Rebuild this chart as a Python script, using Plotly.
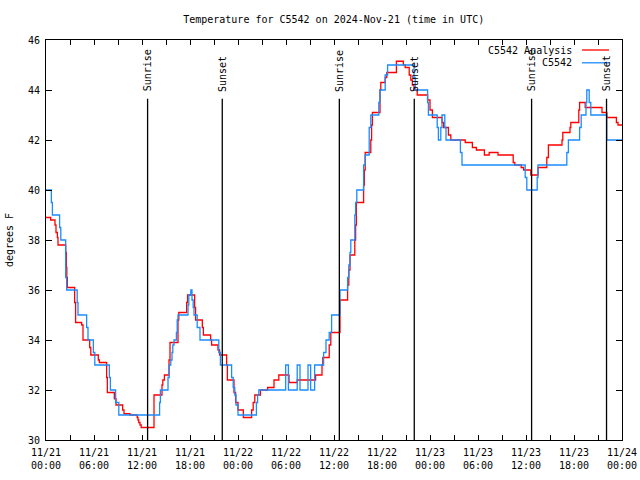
import pandas as pd
import plotly.graph_objects as go

START = pd.Timestamp("2024-11-21 00:00")
END = pd.Timestamp("2024-11-24 00:00")

# Analysis series (hours since 11/21 00:00 UTC, degrees F)
analysis_hours = [0, 0.58, 1.125, 1.25, 1.42, 1.5, 2.46, 2.55, 2.6, 2.67, 3.58, 3.7, 4.46, 4.625,
                  5.46, 5.6, 6.54, 6.67, 7.58, 7.67, 8.54, 8.75, 9.58, 9.75, 10.5, 11.4, 11.5, 11.6,
                  11.75, 11.9, 13.5, 14.5, 14.6, 14.8, 15.375, 15.5, 16.5, 16.6, 17.58, 17.7, 18.58,
                  18.7, 19.54, 19.67, 20.58, 20.7, 21.5, 21.7, 22.58, 22.67, 23.5, 23.7, 24.0, 24.67,
                  25.7, 25.9, 26.1, 26.8, 27.7, 28.5, 29.1, 30.375, 31.4, 33.7, 34.5, 34.6, 35.4,
                  35.6, 36.75, 37.7, 37.85, 38.0, 38.6, 38.7, 38.8, 39.7, 39.8, 39.9, 40.6, 40.7,
                  40.8, 41.75, 41.85, 42.4, 42.6, 43.8, 44.67, 44.9, 45.4, 45.6, 45.8, 46.0, 46.4,
                  47.7, 48.0, 48.3, 49.5, 49.7, 50.3, 50.6, 52.4, 53.3, 53.8, 54.8, 55.4, 56.5,
                  58.4, 58.6, 59.4, 59.7, 60.6, 61.5, 62.6, 62.8, 64.5, 64.6, 65.5, 65.6, 66.6,
                  66.7, 67.4, 69.5, 70.1, 71.3, 71.5, 72]
analysis_temp = [38.9, 38.8, 38.6, 38.3, 38.1, 37.8, 37.5, 36.9, 36.5, 36.1, 35.5, 34.7, 34.6, 34.0,
                 33.7, 33.4, 33.2, 33.1, 32.5, 31.9, 31.65, 31.4, 31.2, 31.05, 31.0, 30.9, 30.8, 30.7,
                 30.6, 30.5, 31.8, 32.2, 32.4, 32.6, 33.2, 33.9, 34.8, 35.1, 35.5, 35.8, 35.3,
                 34.8, 34.5, 34.2, 34.0, 33.8, 33.6, 33.4, 33.0, 32.4, 31.9, 31.5, 31.2, 30.9,
                 31.2, 31.5, 31.8, 32.0, 32.1, 32.4, 32.6, 32.3, 32.4, 32.6, 33.0, 33.3, 33.8,
                 34.3, 35.6, 36.2, 36.8, 37.4, 38.0, 38.6, 39.5, 40.2, 40.8, 41.5, 42.0, 42.6,
                 43.1, 44.0, 44.3, 44.5, 44.7, 45.15, 45.0, 44.9, 44.6, 44.4, 44.2, 44.0, 43.8,
                 43.6, 43.2, 42.9, 42.7, 42.5, 42.2, 42.0, 41.9, 41.7, 41.6, 41.4, 41.5, 41.4,
                 41.1, 41.0, 40.9, 40.8, 40.6, 40.9, 41.3, 41.8, 42.0, 42.3, 42.5, 42.7, 43.2,
                 43.5, 43.3, 43.1, 42.9, 42.7, 42.6, 42.6]

# Observation series
obs_hours = [0, 0.67, 0.8, 1.7, 1.85, 2.46, 2.58, 3.9, 4.0, 5.08, 5.25, 5.92, 6.1, 7.92, 8.05,
             8.7, 9.1, 14.2, 14.3, 15.25, 15.4, 15.6, 15.75, 15.85, 16.0, 16.3, 16.4, 16.5,
             17.75, 17.85, 18.1, 18.25, 18.4, 18.5, 18.9, 19.25, 21.6, 21.8, 23.2, 23.4, 23.6,
             23.75, 24.0, 26.3, 26.45, 26.6, 29.96, 30.3, 31.4, 31.75, 32.75, 33.08, 33.58,
             34.7, 35.0, 35.4, 35.7, 36.75, 37.7, 37.85, 38.0, 38.1, 38.6, 38.7, 38.85, 39.7,
             39.9, 40.4, 40.6, 41.6, 41.75, 42.4, 42.7, 46.0, 46.15, 47.7, 47.8, 48.9, 49.05,
             49.35, 49.5, 49.85, 50.0, 51.8, 52.0, 59.9, 60.1, 61.4, 61.5, 65.1, 65.3, 66.7,
             66.9, 67.5, 67.6, 67.9, 68.1, 70.1, 72]
obs_temp = [40, 39.5, 39, 38.5, 38, 36.5, 36, 35.5, 35, 34.5, 34, 33.5, 33, 32.5, 32,
            31.5, 31, 31.5, 32, 32.5, 33, 33.2, 33.5, 33.8, 34, 34.3, 34.8, 35,
            35.4, 35.8, 36, 35.6, 35.3, 35, 34.5, 34, 33.5, 33, 32.5, 32.1, 31.8,
            31.4, 31, 31.5, 31.8, 32, 33, 32, 33, 32, 33, 32, 33,
            33.5, 34, 34.3, 35, 36, 36.5, 37, 37.5, 38, 39, 39.5, 40, 41,
            41.4, 42.5, 43, 43.5, 44, 44.6, 45, 44.5, 44, 43.5, 43, 42.5, 42,
            42.5, 43, 42.5, 42, 41.5, 41, 40.5, 40, 40.5, 41, 41.5, 42, 42.5,
            43, 43.5, 44, 43.5, 43, 42, 42]

sun_labels = ["Sunrise", "Sunset", "Sunrise", "Sunset", "Sunrise", "Sunset"]
sun_times = ["2024-11-21 12:42", "2024-11-21 22:02", "2024-11-22 12:40",
             "2024-11-22 22:02", "2024-11-23 12:42", "2024-11-23 22:04"]

series_names = ["C5542 Analysis", "C5542"]
series_colors = ["#ff0000", "#1a8cff"]

y_ticks = [30, 32, 34, 36, 38, 40, 42, 44, 46]
x_ticks = pd.date_range(START, END, freq="6h")
x_ticktext = [t.strftime("%m/%d") + "<br>" + t.strftime("%H:%M") for t in x_ticks]

FONT = "DejaVu Sans Mono"

def to_time(hours):
    return [START + pd.Timedelta(hours=h) for h in hours]

fig = go.Figure()
fig.add_trace(go.Scatter(x=to_time(analysis_hours), y=analysis_temp, mode="lines",
                         line=dict(color=series_colors[0], width=1.3, shape="hv"),
                         name=series_names[0], showlegend=False))
fig.add_trace(go.Scatter(x=to_time(obs_hours), y=obs_temp, mode="lines",
                         line=dict(color=series_colors[1], width=1.3, shape="hv"),
                         name=series_names[1], showlegend=False))

shapes = []
annotations = []
for lab, t in zip(sun_labels, sun_times):
    shapes.append(dict(type="line", xref="x", yref="y", x0=t, x1=t, y0=30, y1=43.65,
                       line=dict(color="black", width=1.3)))
    annotations.append(dict(x=t, y=43.85, xref="x", yref="y", text=lab, showarrow=False,
                            textangle=-90, xanchor="center", yanchor="bottom",
                            font=dict(family=FONT, size=10, color="black")))

# legend (gnuplot style: text then sample line)
leg_y = [0.975, 0.943]
for name, col, ly in zip(series_names, series_colors, leg_y):
    annotations.append(dict(x=0.9167, y=ly, xref="paper", yref="paper", text=name,
                            showarrow=False, xanchor="right", yanchor="middle",
                            font=dict(family=FONT, size=10, color="black")))
    shapes.append(dict(type="line", xref="paper", yref="paper", x0=0.9306, x1=0.9774,
                       y0=ly, y1=ly, line=dict(color=col, width=1.3)))

fig.update_layout(
    width=640, height=480,
    margin=dict(l=46, r=18, t=40, b=40),
    paper_bgcolor="white", plot_bgcolor="white",
    font=dict(family=FONT, size=10, color="black"),
    title=dict(text="Temperature for C5542 on 2024-Nov-21 (time in UTC)",
               x=0.5214, xanchor="center", y=0.96, yanchor="middle",
               font=dict(family=FONT, size=10, color="black")),
    shapes=shapes, annotations=annotations,
    showlegend=False,
)
fig.update_xaxes(range=[START, END], tickvals=list(x_ticks), ticktext=x_ticktext,
                 ticks="inside", ticklen=5, tickcolor="black", showgrid=False,
                 showline=True, linecolor="black", linewidth=1, mirror="ticks",
                 minor=dict(dtick=3 * 3600 * 1000, ticks="inside", ticklen=5, tickcolor="black"),
                 zeroline=False, tickfont=dict(family=FONT, size=10), automargin=False,
                 ticklabelstandoff=3)
fig.update_yaxes(range=[30, 46], tickvals=y_ticks, ticks="inside", ticklen=6, tickcolor="black",
                 showgrid=False, showline=True, linecolor="black", linewidth=1, mirror="ticks",
                 zeroline=False, tickfont=dict(family=FONT, size=10), automargin=False,
                 ticklabelstandoff=3,
                 title=dict(text="degrees F", standoff=12, font=dict(family=FONT, size=10)))

fig.write_html("out.html", config={"displayModeBar": False},
               post_script="document.body.style.margin='0';")
